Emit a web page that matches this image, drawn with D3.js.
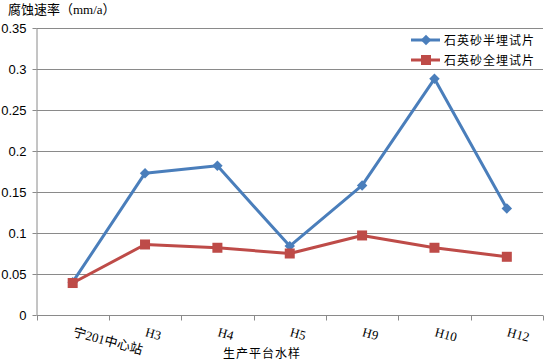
<!DOCTYPE html>
<html><head><meta charset="utf-8">
<script src="https://cdn.jsdelivr.net/npm/d3@7"></script>
<style>body{margin:0;background:#fff}svg{display:block}</style>
</head><body>
<svg id="c" width="548" height="360"></svg>
<script>
const categories = ["宁201中心站","H3","H4","H5","H9","H10","H12"];
const seriesNames = ["石英砂半埋试片","石英砂全埋试片"];
const halfBuried = [0.040,0.173,0.182,0.084,0.158,0.288,0.130];
const fullBuried = [0.039,0.086,0.082,0.075,0.097,0.082,0.071];
const yTicks = [0,0.05,0.1,0.15,0.2,0.25,0.3,0.35];
const yTickLabels = ["0","0.05","0.1","0.15","0.2","0.25","0.3","0.35"];
const colors = ["#4A7EBB","#BE4B48"];

const svg = d3.select("#c");
const L=36.5, R=543, T=28, B=315;
const x = d3.scaleBand().domain(categories).range([L,R]);
const y = d3.scaleLinear().domain([0,0.35]).range([B,T]);
const sans = "Arial, 'Liberation Sans', 'Noto Sans CJK SC', sans-serif";
const serif = "'Times New Roman','Liberation Serif','Noto Sans CJK SC', serif";

// gridlines
svg.append("g").selectAll("line").data(yTicks.slice(1)).join("line")
  .attr("x1",L).attr("x2",R).attr("y1",d=>Math.round(y(d))+0.5).attr("y2",d=>Math.round(y(d))+0.5)
  .attr("stroke","#8a8a8a").attr("stroke-width",1);

// y axis
const yAxis = d3.axisLeft(y).tickValues(yTicks).tickFormat((d,i)=>yTickLabels[i]).tickSize(4).tickPadding(6);
const gy = svg.append("g").attr("transform",`translate(${L},0)`).call(yAxis);
gy.select(".domain").attr("stroke","#8a8a8a").attr("d",`M0.5,${T}V${B}`);
gy.selectAll(".tick line").attr("stroke","#8a8a8a");
gy.selectAll("text").attr("font-family",sans).attr("font-size",13).attr("fill","#000");

// x axis
const xAxis = d3.axisBottom(x).tickSize(0).tickFormat(()=> "");
const gx = svg.append("g").attr("transform",`translate(0,${B+0.5})`).call(xAxis);
gx.select(".domain").attr("stroke","#8a8a8a").attr("d",`M${L},0H${R}`);
gx.selectAll(".tick").remove();
const bounds = categories.map((c,i)=>x(c)).concat([R]);
gx.selectAll("line.tk").data(bounds).join("line").attr("class","tk")
  .attr("x1",d=>Math.round(d)+0.5).attr("x2",d=>Math.round(d)+0.5).attr("y1",0).attr("y2",5)
  .attr("stroke","#8a8a8a");
svg.append("g").selectAll("text").data(categories).join("text")
  .attr("transform",d=>`translate(${x(d)+x.bandwidth()/2-0.5},${336}) rotate(15)`)
  .attr("font-family",serif).attr("font-size",13).attr("fill","#000")
  .text(d=>d);

// lines
const line = d3.line().x((d,i)=>x(categories[i])+x.bandwidth()/2).y(d=>y(d));
[halfBuried,fullBuried].forEach((s,k)=>{
  svg.append("path").datum(s).attr("d",line).attr("fill","none")
    .attr("stroke",colors[k]).attr("stroke-width",3).attr("stroke-linejoin","round");
});
// markers
svg.append("g").selectAll("path").data(halfBuried).join("path")
  .attr("transform",(d,i)=>`translate(${x(categories[i])+x.bandwidth()/2},${y(d)})`)
  .attr("d",d3.symbol(d3.symbolDiamond2,70)()).attr("fill",colors[0]);
svg.append("g").selectAll("rect").data(fullBuried).join("rect")
  .attr("x",(d,i)=>x(categories[i])+x.bandwidth()/2-5).attr("y",d=>y(d)-5)
  .attr("width",10).attr("height",10).attr("fill",colors[1]);

// legend
const lg = svg.append("g");
seriesNames.forEach((n,k)=>{
  const ly = 40 + k*20;
  lg.append("line").attr("x1",411).attr("x2",440).attr("y1",ly).attr("y2",ly)
    .attr("stroke",colors[k]).attr("stroke-width",3);
  if(k===0) lg.append("path").attr("transform",`translate(426,${ly})`).attr("d",d3.symbol(d3.symbolDiamond2,70)()).attr("fill",colors[0]);
  else lg.append("rect").attr("x",421).attr("y",ly-5).attr("width",10).attr("height",10).attr("fill",colors[1]);
  lg.append("text").attr("x",444).attr("y",ly+4.5).attr("font-family",sans).attr("font-size",12).attr("letter-spacing",1).text(n);
});

// titles
svg.append("text").attr("x",8).attr("y",14).attr("font-family",serif).attr("font-size",13).text("腐蚀速率（mm/a）");
svg.append("text").attr("x",262).attr("y",358).attr("text-anchor","middle").attr("font-family",sans).attr("font-size",12).attr("letter-spacing",1).text("生产平台水样");
</script>
</body></html>
